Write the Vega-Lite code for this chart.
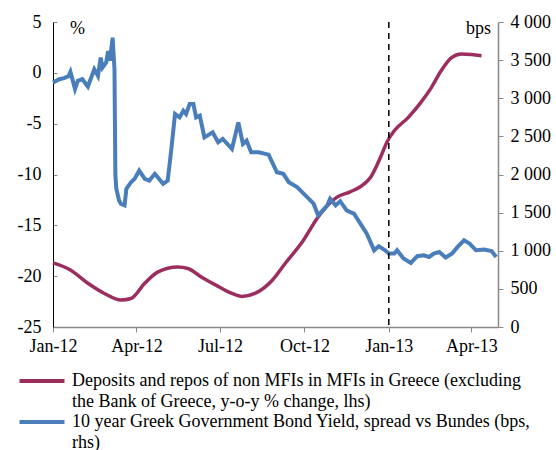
{
  "$schema": "https://vega.github.io/schema/vega-lite/v6.json",
  "width": 445,
  "height": 305,
  "autosize": {"type": "none"},
  "padding": {"left": 53, "top": 22, "right": 58, "bottom": 123},
  "background": "white",
  "title": {"text": "spreads", "anchor": "middle", "frame": "group", "fontSize": 20, "fontWeight": "bold", "font": "Times New Roman, Liberation Serif, serif", "baseline": "bottom", "offset": 8, "color": "black"},
  "config": {
    "view": {"stroke": null},
    "font": "Times New Roman, Liberation Serif, serif",
    "axis": {"grid": false, "labelFont": "Times New Roman, Liberation Serif, serif", "labelFontSize": 18, "labelColor": "black", "titleFont": "Times New Roman, Liberation Serif, serif", "titleFontSize": 18, "titleFontWeight": "normal", "titleColor": "black"}
  },
  "datasets": {
    "deposits": [
      {"date": "2012-01-01", "v": -18.7},
      {"date": "2012-01-20", "v": -19.4},
      {"date": "2012-02-08", "v": -20.7},
      {"date": "2012-02-26", "v": -21.7},
      {"date": "2012-03-15", "v": -22.35},
      {"date": "2012-03-26", "v": -22.2},
      {"date": "2012-04-10", "v": -20.7},
      {"date": "2012-04-24", "v": -19.6},
      {"date": "2012-05-16", "v": -19.1},
      {"date": "2012-05-27", "v": -19.25},
      {"date": "2012-06-11", "v": -20.1},
      {"date": "2012-06-29", "v": -21.0},
      {"date": "2012-07-14", "v": -21.7},
      {"date": "2012-07-25", "v": -22.0},
      {"date": "2012-08-08", "v": -21.7},
      {"date": "2012-08-27", "v": -20.4},
      {"date": "2012-09-10", "v": -18.75},
      {"date": "2012-09-29", "v": -16.6},
      {"date": "2012-10-15", "v": -14.3},
      {"date": "2012-10-30", "v": -12.7},
      {"date": "2012-11-06", "v": -12.2},
      {"date": "2012-11-20", "v": -11.7},
      {"date": "2012-12-01", "v": -11.2},
      {"date": "2012-12-12", "v": -10.3},
      {"date": "2012-12-23", "v": -8.3},
      {"date": "2012-12-30", "v": -6.8},
      {"date": "2013-01-07", "v": -5.7},
      {"date": "2013-01-22", "v": -4.4},
      {"date": "2013-02-05", "v": -2.9},
      {"date": "2013-02-16", "v": -1.5},
      {"date": "2013-02-27", "v": 0.2},
      {"date": "2013-03-10", "v": 1.47},
      {"date": "2013-03-21", "v": 1.86},
      {"date": "2013-04-01", "v": 1.8},
      {"date": "2013-04-12", "v": 1.67}
    ],
    "spread": [
      {"date": "2012-01-01", "v": 3206},
      {"date": "2012-01-08", "v": 3250},
      {"date": "2012-01-13", "v": 3264},
      {"date": "2012-01-18", "v": 3290},
      {"date": "2012-01-20", "v": 3346},
      {"date": "2012-01-25", "v": 3120},
      {"date": "2012-01-28", "v": 3228},
      {"date": "2012-02-02", "v": 3250},
      {"date": "2012-02-08", "v": 3154},
      {"date": "2012-02-15", "v": 3381},
      {"date": "2012-02-19", "v": 3294},
      {"date": "2012-02-22", "v": 3533},
      {"date": "2012-02-24", "v": 3402},
      {"date": "2012-02-28", "v": 3468},
      {"date": "2012-03-01", "v": 3620},
      {"date": "2012-03-03", "v": 3490},
      {"date": "2012-03-06", "v": 3794},
      {"date": "2012-03-08", "v": 3381},
      {"date": "2012-03-09", "v": 1987},
      {"date": "2012-03-10", "v": 1813},
      {"date": "2012-03-13", "v": 1660},
      {"date": "2012-03-15", "v": 1617},
      {"date": "2012-03-19", "v": 1595},
      {"date": "2012-03-21", "v": 1813},
      {"date": "2012-03-26", "v": 1899},
      {"date": "2012-03-30", "v": 1944},
      {"date": "2012-04-04", "v": 2052},
      {"date": "2012-04-10", "v": 1944},
      {"date": "2012-04-15", "v": 1921},
      {"date": "2012-04-21", "v": 2009},
      {"date": "2012-04-30", "v": 1878},
      {"date": "2012-05-05", "v": 1921},
      {"date": "2012-05-09", "v": 2336},
      {"date": "2012-05-13", "v": 2793},
      {"date": "2012-05-18", "v": 2749},
      {"date": "2012-05-22", "v": 2836},
      {"date": "2012-05-25", "v": 2793},
      {"date": "2012-05-29", "v": 2924},
      {"date": "2012-06-02", "v": 2924},
      {"date": "2012-06-05", "v": 2749},
      {"date": "2012-06-09", "v": 2771},
      {"date": "2012-06-14", "v": 2487},
      {"date": "2012-06-23", "v": 2553},
      {"date": "2012-06-29", "v": 2422},
      {"date": "2012-07-04", "v": 2466},
      {"date": "2012-07-14", "v": 2336},
      {"date": "2012-07-21", "v": 2683},
      {"date": "2012-07-26", "v": 2401},
      {"date": "2012-07-30", "v": 2444},
      {"date": "2012-08-04", "v": 2291},
      {"date": "2012-08-12", "v": 2291},
      {"date": "2012-08-23", "v": 2260},
      {"date": "2012-09-01", "v": 2030},
      {"date": "2012-09-08", "v": 2009},
      {"date": "2012-09-14", "v": 1899},
      {"date": "2012-09-23", "v": 1834},
      {"date": "2012-10-04", "v": 1703},
      {"date": "2012-10-11", "v": 1617},
      {"date": "2012-10-16", "v": 1464},
      {"date": "2012-10-26", "v": 1595},
      {"date": "2012-10-29", "v": 1682},
      {"date": "2012-11-04", "v": 1595},
      {"date": "2012-11-09", "v": 1650},
      {"date": "2012-11-16", "v": 1529},
      {"date": "2012-11-20", "v": 1507},
      {"date": "2012-11-24", "v": 1486},
      {"date": "2012-12-01", "v": 1355},
      {"date": "2012-12-08", "v": 1225},
      {"date": "2012-12-16", "v": 1006},
      {"date": "2012-12-21", "v": 1060},
      {"date": "2012-12-28", "v": 1006},
      {"date": "2013-01-01", "v": 963},
      {"date": "2013-01-07", "v": 963},
      {"date": "2013-01-10", "v": 1006},
      {"date": "2013-01-17", "v": 898},
      {"date": "2013-01-25", "v": 840},
      {"date": "2013-02-01", "v": 928},
      {"date": "2013-02-08", "v": 941},
      {"date": "2013-02-14", "v": 919},
      {"date": "2013-02-19", "v": 963},
      {"date": "2013-02-25", "v": 984},
      {"date": "2013-03-04", "v": 911},
      {"date": "2013-03-11", "v": 963},
      {"date": "2013-03-17", "v": 1050},
      {"date": "2013-03-24", "v": 1137},
      {"date": "2013-03-30", "v": 1094},
      {"date": "2013-04-06", "v": 1006},
      {"date": "2013-04-15", "v": 1015},
      {"date": "2013-04-23", "v": 997},
      {"date": "2013-04-28", "v": 919}
    ],
    "zero": [{"v": 0}],
    "marker": [{"date": "2013-01-01"}]
  },
  "encoding": {
    "x": {
      "field": "date",
      "type": "temporal",
      "scale": {"type": "utc", "domain": [{"year": 2012, "month": 1, "date": 1, "utc": true}, {"year": 2013, "month": 4, "date": 30, "utc": true}]},
      "axis": {
        "title": null,
        "values": [
          {"year": 2012, "month": 1, "date": 1, "utc": true},
          {"year": 2012, "month": 4, "date": 1, "utc": true},
          {"year": 2012, "month": 7, "date": 1, "utc": true},
          {"year": 2012, "month": 10, "date": 1, "utc": true},
          {"year": 2013, "month": 1, "date": 1, "utc": true},
          {"year": 2013, "month": 4, "date": 1, "utc": true}
        ],
        "labelExpr": "utcFormat(datum.value, '%b-%y')",
        "domainColor": "#888888",
        "domainWidth": 1.5,
        "tickColor": "#888888",
        "tickSize": 5,
        "labelPadding": 5,
        "labelFlush": false,
        "labelOverlap": false
      }
    }
  },
  "layer": [
    {
      "data": {"name": "deposits"},
      "mark": {"type": "line", "interpolate": "monotone", "strokeWidth": 3.5},
      "encoding": {
        "y": {
          "field": "v",
          "type": "quantitative",
          "scale": {"domain": [-25, 5], "nice": false, "zero": false},
          "axis": {
            "orient": "left",
            "values": [-25, -20, -15, -10, -5, 0, 5],
            "labelExpr": "datum.value + ''",
            "domainColor": "black",
            "tickColor": "#888888",
            "tickSize": -4,
            "labelPadding": 16,
            "title": "%",
            "titleAngle": 0,
            "titleAlign": "center",
            "titleBaseline": "middle",
            "titleX": 24,
            "titleY": 6
          }
        },
        "color": {
          "datum": "Deposits",
          "type": "nominal",
          "scale": {"domain": ["Deposits", "Deposits2", "Spread", "Spread2"], "range": ["#9B2D5F", "transparent", "#4A7EBB", "transparent"]},
          "legend": {
            "orient": "none",
            "legendX": -20,
            "legendY": 350,
            "title": null,
            "symbolType": "M-5,0H5",
            "symbolSize": 81,
            "symbolStrokeWidth": 4,
            "labelFont": "Times New Roman, Liberation Serif, serif",
            "labelFontSize": 18,
            "labelColor": "black",
            "labelLimit": 1000,
            "labelOffset": 21,
            "rowPadding": 2.5,
            "labelExpr": "datum.label == 'Deposits' ? 'Deposits and repos of non MFIs in MFIs in Greece (excluding' : datum.label == 'Deposits2' ? 'the Bank of Greece, y-o-y % change, lhs)' : datum.label == 'Spread' ? '10 year Greek Government Bond Yield, spread vs Bundes (bps,' : 'rhs)'"
          }
        }
      }
    },
    {
      "data": {"name": "spread"},
      "mark": {"type": "line", "strokeWidth": 4},
      "encoding": {
        "y": {
          "field": "v",
          "type": "quantitative",
          "scale": {"domain": [0, 4000], "nice": false},
          "axis": {
            "orient": "right",
            "values": [0, 500, 1000, 1500, 2000, 2500, 3000, 3500, 4000],
            "labelExpr": "replace(format(datum.value, ','), ',', ' ')",
            "domainColor": "#888888",
            "domainWidth": 1.5,
            "tickColor": "#888888",
            "tickSize": 5,
            "labelPadding": 7,
            "title": "bps",
            "titleAngle": 0,
            "titleAlign": "center",
            "titleBaseline": "middle",
            "titleX": -20,
            "titleY": 6
          }
        },
        "color": {"datum": "Spread", "type": "nominal"}
      }
    },
    {
      "data": {"name": "zero"},
      "mark": {"type": "rule", "color": "black", "strokeWidth": 1},
      "encoding": {
        "y": {"field": "v", "type": "quantitative", "scale": {"domain": [-25, 5], "nice": false, "zero": false}, "axis": null}
      }
    },
    {
      "data": {"name": "marker"},
      "mark": {"type": "rule", "color": "black", "strokeWidth": 1.5, "strokeDash": [6, 5]},
      "encoding": {
        "x": {"field": "date", "type": "temporal"}
      }
    }
  ],
  "resolve": {"scale": {"y": "independent"}, "axis": {"y": "independent"}}
}
